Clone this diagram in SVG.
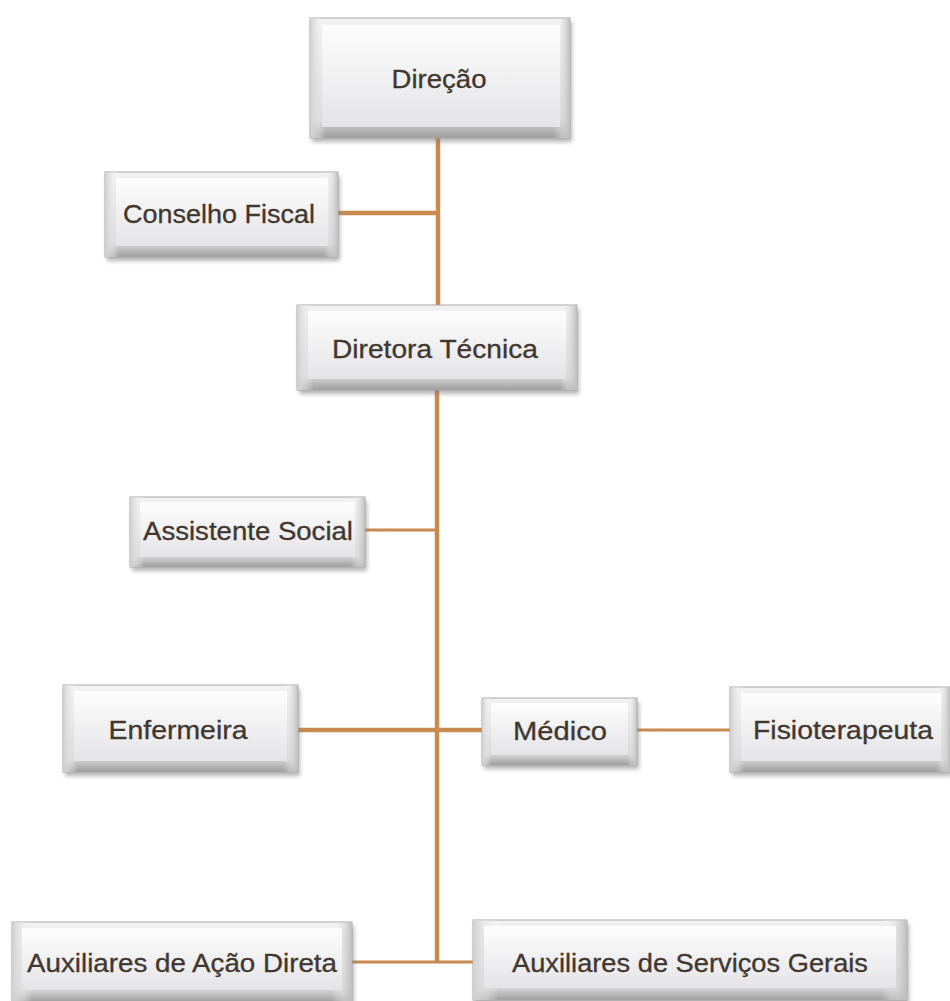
<svg xmlns="http://www.w3.org/2000/svg" width="950" height="1001" viewBox="0 0 950 1001">
<defs>
<linearGradient id="gOuter" x1="0" y1="0" x2="0" y2="1">
<stop offset="0" stop-color="#f2f2f2"/>
<stop offset="0.85" stop-color="#d4d4d4"/>
<stop offset="1" stop-color="#9d9d9d"/>
</linearGradient>
<linearGradient id="gSide" x1="0" y1="0" x2="1" y2="0">
<stop offset="0" stop-color="#cfcfcf"/>
<stop offset="0.06" stop-color="#ffffff" stop-opacity="0"/>
<stop offset="0.94" stop-color="#ffffff" stop-opacity="0"/>
<stop offset="1" stop-color="#bdbdbd"/>
</linearGradient>
<linearGradient id="gInner" x1="0" y1="0" x2="0" y2="1">
<stop offset="0" stop-color="#fdfdfd"/>
<stop offset="1" stop-color="#e4e4e7"/>
</linearGradient>
<filter id="sh" x="-10%" y="-10%" width="120%" height="130%">
<feGaussianBlur stdDeviation="2"/>
</filter>
</defs>
<style>
.shadow{fill:#7a7a7a;opacity:.55;filter:url(#sh)}
.outer{fill:url(#gOuter);stroke:#a8a8a8;stroke-width:1}
.side{fill:url(#gSide)}
.inner{fill:url(#gInner)}
.lbl{font-family:"Liberation Sans",Arial,sans-serif;font-size:25px;fill:#42372f;text-anchor:middle;stroke:#42372f;stroke-width:0.3}
.conn line{stroke:#c98a50;stroke-linecap:butt}
.thick{stroke-width:4.5}
.thin{stroke-width:3}
</style>
<rect width="950" height="1001" fill="#ffffff"/>

<g id="connectors" class="conn">
<line class="thick" x1="438" y1="138" x2="438" y2="305"/>
<line class="thick" x1="437" y1="390" x2="437" y2="963"/>
<line class="thick" x1="338" y1="213" x2="438" y2="213"/>
<line class="thin" x1="365" y1="530" x2="437" y2="530"/>
<line class="thick" x1="298" y1="730" x2="482" y2="730"/>
<line class="thin" x1="637" y1="730" x2="730" y2="730"/>
<line class="thin" x1="352" y1="962" x2="473" y2="962"/>
</g>

<g id="n-direcao">
<rect class="shadow" x="312" y="22" width="260" height="120"/>
<rect class="outer" x="310" y="18" width="260" height="120"/>
<rect class="side" x="310" y="18" width="260" height="120"/>
<rect class="inner" x="322" y="25" width="238" height="102"/>
<text class="lbl" x="439" y="88" textLength="95" lengthAdjust="spacingAndGlyphs">Direção</text>
</g>

<g id="n-conselho">
<rect class="shadow" x="107" y="176" width="233" height="85"/>
<rect class="outer" x="105" y="172" width="233" height="85"/>
<rect class="side" x="105" y="172" width="233" height="85"/>
<rect class="inner" x="116" y="178" width="212" height="68"/>
<text class="lbl" x="219" y="223" textLength="192" lengthAdjust="spacingAndGlyphs">Conselho Fiscal</text>
</g>

<g id="n-diretora">
<rect class="shadow" x="299" y="309" width="280" height="85"/>
<rect class="outer" x="297" y="305" width="280" height="85"/>
<rect class="side" x="297" y="305" width="280" height="85"/>
<rect class="inner" x="308" y="311" width="258" height="68"/>
<text class="lbl" x="435" y="358" textLength="206" lengthAdjust="spacingAndGlyphs">Diretora Técnica</text>
</g>

<g id="n-assistente">
<rect class="shadow" x="132" y="501" width="235" height="70"/>
<rect class="outer" x="130" y="497" width="235" height="70"/>
<rect class="side" x="130" y="497" width="235" height="70"/>
<rect class="inner" x="140" y="502" width="215" height="55"/>
<text class="lbl" x="248" y="540" textLength="210" lengthAdjust="spacingAndGlyphs">Assistente  Social</text>
</g>

<g id="n-enfermeira">
<rect class="shadow" x="65" y="689" width="235" height="87"/>
<rect class="outer" x="63" y="685" width="235" height="87"/>
<rect class="side" x="63" y="685" width="235" height="87"/>
<rect class="inner" x="74" y="691" width="213" height="70"/>
<text class="lbl" x="178" y="739" textLength="139" lengthAdjust="spacingAndGlyphs">Enfermeira</text>
</g>

<g id="n-medico">
<rect class="shadow" x="484" y="702" width="155" height="67"/>
<rect class="outer" x="482" y="698" width="155" height="67"/>
<rect class="side" x="482" y="698" width="155" height="67"/>
<rect class="inner" x="491" y="703" width="137" height="52"/>
<text class="lbl" x="560" y="740" textLength="94" lengthAdjust="spacingAndGlyphs">Médico</text>
</g>

<g id="n-fisio">
<rect class="shadow" x="732" y="691" width="220" height="85"/>
<rect class="outer" x="730" y="687" width="220" height="85"/>
<rect class="side" x="730" y="687" width="220" height="85"/>
<rect class="inner" x="741" y="693" width="200" height="68"/>
<text class="lbl" x="843" y="739" textLength="180" lengthAdjust="spacingAndGlyphs">Fisioterapeuta</text>
</g>

<g id="n-aux-acao">
<rect class="shadow" x="14" y="926" width="340" height="80"/>
<rect class="outer" x="12" y="922" width="340" height="80"/>
<rect class="side" x="12" y="922" width="340" height="80"/>
<rect class="inner" x="22" y="928" width="320" height="62"/>
<text class="lbl" x="182" y="972" textLength="310" lengthAdjust="spacingAndGlyphs">Auxiliares de Ação Direta</text>
</g>

<g id="n-aux-servicos">
<rect class="shadow" x="475" y="924" width="434" height="80"/>
<rect class="outer" x="473" y="920" width="434" height="80"/>
<rect class="side" x="473" y="920" width="434" height="80"/>
<rect class="inner" x="484" y="926" width="412" height="62"/>
<text class="lbl" x="690" y="972" textLength="356" lengthAdjust="spacingAndGlyphs">Auxiliares de Serviços Gerais</text>
</g>
</svg>
